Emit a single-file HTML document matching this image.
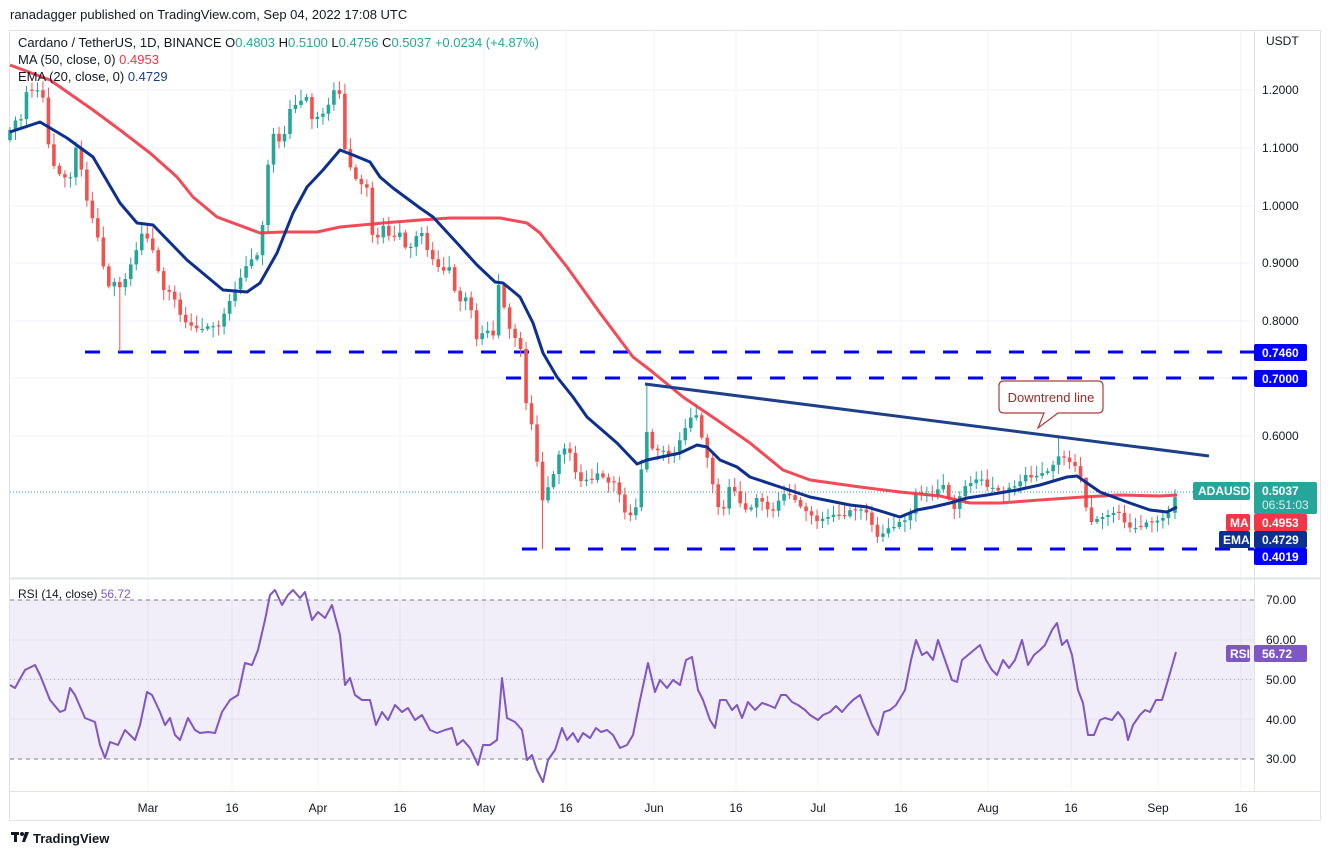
<!DOCTYPE html>
<html><head><meta charset="utf-8"><style>
body{margin:0;background:#fff;font-family:"Liberation Sans",sans-serif;}
svg text{font-family:"Liberation Sans",sans-serif;}
</style></head><body>
<svg id="c" width="1332" height="857" xmlns="http://www.w3.org/2000/svg">
<rect width="1332" height="857" fill="#fff"/>
<text x="10" y="19" font-size="13" fill="#131722">ranadagger published on TradingView.com, Sep 04, 2022 17:08 UTC</text>
<rect x="9.5" y="30.5" width="1311" height="790" fill="none" stroke="#e0e3eb"/>
<g id="grid" stroke="#f0f3fa" stroke-width="1"></g>
<rect x="10" y="600" width="1244" height="159" fill="#7e57c2" fill-opacity="0.1"/>
<line x1="10" y1="600" x2="1254" y2="600" stroke="#787b86" stroke-dasharray="4,4"/>
<line x1="10" y1="759" x2="1254" y2="759" stroke="#787b86" stroke-dasharray="4,4"/>
<line x1="10" y1="679.5" x2="1254" y2="679.5" stroke="#787b86" stroke-opacity="0.5" stroke-dasharray="1,3"/>
<line x1="1254.5" y1="31" x2="1254.5" y2="791" stroke="#e0e3eb"/>
<line x1="10" y1="578.5" x2="1320" y2="578.5" stroke="#e0e3eb" stroke-width="2"/>
<line x1="10" y1="791.5" x2="1320" y2="791.5" stroke="#e0e3eb"/>
<line x1="10" y1="492" x2="1254" y2="492" stroke="#26a69a" stroke-dasharray="1,2"/>
<g stroke="#0000ff" stroke-width="3" stroke-dasharray="15,18">
<line x1="85" y1="352" x2="1254" y2="352"/>
<line x1="506" y1="378" x2="1254" y2="378"/>
<line x1="522" y1="549" x2="1254" y2="549"/>
</g>
<g id="candles"></g>
<polyline fill="none" stroke="#f23645" stroke-opacity="0.9" stroke-width="3" stroke-linejoin="round" points="10,65 50,80 93,110 120,130 150,153 177,177 193,197 217,217 260,233 283,232 317,232 340,227 383,223 420,220 450,218 500,218 527,223 540,233 567,267 600,313 633,357 650,370 683,397 717,420 750,443 783,470 810,480 860,487 900,492 940,496 970,503 1000,503 1040,500 1083,497 1120,495 1160,496 1177,495"/>
<polyline fill="none" stroke="#0d2f8f" stroke-width="3" stroke-linejoin="round" points="10,132 40,122 67,138 93,157 120,203 137,223 153,225 187,260 223,290 247,292 260,283 277,253 293,213 307,187 323,170 340,150 353,155 370,162 380,177 393,188 420,208 433,217 457,243 477,265 495,282 503,283 520,297 533,323 543,353 557,377 573,397 587,417 617,443 637,464 647,460 680,453 697,445 707,447 720,460 737,467 750,477 780,487 810,497 850,505 867,507 900,517 917,510 933,507 950,503 967,498 987,495 1017,490 1040,485 1067,477 1077,476 1087,483 1100,492 1127,502 1150,510 1167,512 1177,507"/>
<line x1="645" y1="384" x2="1209" y2="456" stroke="#1e3f8a" stroke-width="3"/>
<path d="M1004,381 H1098 Q1103,381 1103,386 V408 Q1103,413 1098,413 H1058 L1038,428 L1044,413 H1004 Q999,413 999,408 V386 Q999,381 1004,381 Z" fill="#fff" stroke="#b23a3a" stroke-width="1.2"/>
<text x="1051" y="402" font-size="13" fill="#9c2a2a" text-anchor="middle">Downtrend line</text>
<polyline fill="none" stroke="#7e57c2" stroke-width="2" stroke-linejoin="round" points="10,685 15,688 25,670 35,665 40,675 50,700 60,712 65,710 70,688 75,695 85,718 95,722 100,745 105,758 110,742 118,745 125,730 130,735 135,740 140,725 147,692 152,695 160,712 165,725 170,718 175,735 180,740 188,718 195,730 200,733 208,732 215,733 222,712 230,700 238,695 245,663 252,665 258,650 265,620 270,595 275,590 282,605 288,595 293,590 300,598 305,592 312,620 318,612 325,618 332,605 340,635 345,685 350,678 355,695 362,700 370,700 376,725 382,712 388,720 395,705 402,712 408,708 415,720 422,715 430,730 437,733 445,730 452,728 457,745 463,740 470,748 478,765 483,745 490,745 497,740 502,678 507,718 515,722 522,730 527,760 532,755 537,770 543,782 548,760 555,750 562,728 567,740 573,733 578,742 583,733 590,738 596,728 601,732 607,730 613,735 620,748 627,745 633,735 640,700 648,663 655,692 660,680 667,688 673,680 680,685 686,660 692,657 698,690 703,700 710,720 715,728 720,700 726,700 732,710 737,705 742,718 748,702 755,710 762,703 768,705 775,708 781,695 786,695 792,702 798,705 805,710 810,715 818,720 823,715 830,712 836,706 842,712 848,705 853,700 860,695 866,710 872,725 878,735 884,712 890,710 896,705 905,690 911,660 916,640 922,655 927,652 933,660 938,640 945,660 952,680 957,682 962,660 968,655 974,650 980,645 986,660 992,670 997,675 1003,660 1009,668 1015,660 1022,640 1028,665 1034,655 1040,650 1045,645 1052,630 1057,623 1062,645 1067,640 1072,655 1078,690 1083,703 1088,735 1094,735 1100,720 1105,718 1112,720 1118,712 1124,720 1128,740 1133,725 1140,715 1145,710 1150,712 1156,700 1162,700 1168,680 1176,652"/>
<g font-size="12" fill="#131722">
<text x="18" y="47" font-size="13">Cardano / TetherUS, 1D, BINANCE <tspan>O</tspan><tspan fill="#26a69a">0.4803</tspan> <tspan>H</tspan><tspan fill="#26a69a">0.5100</tspan> <tspan>L</tspan><tspan fill="#26a69a">0.4756</tspan> <tspan>C</tspan><tspan fill="#26a69a">0.5037</tspan> <tspan fill="#26a69a">+0.0234 (+4.87%)</tspan></text>
<text x="18" y="64" font-size="13">MA (50, close, 0) <tspan fill="#f23645">0.4953</tspan></text>
<text x="18" y="81" font-size="13">EMA (20, close, 0) <tspan fill="#1e3f8a">0.4729</tspan></text>
<text x="18" y="598">RSI (14, close) <tspan fill="#7e57c2">56.72</tspan></text>
<text x="1266" y="45">USDT</text>
<text x="1262" y="94">1.2000</text>
<text x="1262" y="152">1.1000</text>
<text x="1262" y="210">1.0000</text>
<text x="1262" y="267">0.9000</text>
<text x="1262" y="325">0.8000</text>
<text x="1262" y="440">0.6000</text>
<text x="1266" y="604">70.00</text>
<text x="1266" y="644">60.00</text>
<text x="1266" y="684">50.00</text>
<text x="1266" y="724">40.00</text>
<text x="1266" y="763">30.00</text>
<g text-anchor="middle">
<text x="148" y="812">Mar</text><text x="232" y="812">16</text><text x="318" y="812">Apr</text><text x="400" y="812">16</text><text x="484" y="812">May</text><text x="566" y="812">16</text><text x="654" y="812">Jun</text><text x="736" y="812">16</text><text x="818" y="812">Jul</text><text x="901" y="812">16</text><text x="988" y="812">Aug</text><text x="1071" y="812">16</text><text x="1158" y="812">Sep</text><text x="1241" y="812">16</text>
</g>
</g>
<g font-size="12" font-weight="bold" fill="#fff">
<rect x="1254" y="344" width="53" height="17" fill="#0000ff" rx="2"/><text x="1262" y="357">0.7460</text>
<rect x="1254" y="370" width="53" height="17" fill="#0000ff" rx="2"/><text x="1262" y="383">0.7000</text>
<rect x="1193" y="482" width="57" height="18" fill="#26a69a" rx="2"/><text x="1198" y="495">ADAUSDT</text>
<rect x="1254" y="482" width="63" height="32" fill="#26a69a" rx="2"/><text x="1262" y="495">0.5037</text><text x="1262" y="509" font-weight="normal" fill="#d5f0ec">06:51:03</text>
<rect x="1226" y="514" width="24" height="17" fill="#f23645" rx="2"/><text x="1230" y="527">MA</text>
<rect x="1254" y="514" width="53" height="17" fill="#f23645" rx="2"/><text x="1262" y="527">0.4953</text>
<rect x="1219" y="531" width="31" height="17" fill="#0d2f8f" rx="2"/><text x="1223" y="544">EMA</text>
<rect x="1254" y="531" width="53" height="17" fill="#0d2f8f" rx="2"/><text x="1262" y="544">0.4729</text>
<rect x="1254" y="548" width="53" height="17" fill="#0000ff" rx="2"/><text x="1262" y="561">0.4019</text>
<rect x="1226" y="645" width="24" height="17" fill="#7e57c2" rx="2"/><text x="1230" y="658">RSI</text>
<rect x="1254" y="645" width="53" height="17" fill="#7e57c2" rx="2"/><text x="1262" y="658">56.72</text>
</g>
<g fill="#131722"><rect x="11" y="832" width="8" height="3"/><rect x="14" y="832" width="3" height="10"/><circle cx="22" cy="834" r="2"/><path d="M25,832 h4 l-4,10 h-3z"/></g>
<text x="33" y="843" font-size="13" font-weight="bold" fill="#131722">TradingView</text>
</svg>
<script>
(function(){
var NS="http://www.w3.org/2000/svg";
function el(p,t,a){var e=document.createElementNS(NS,t);for(var k in a)e.setAttribute(k,a[k]);p.appendChild(e);return e;}
var g=document.getElementById("grid");
[148,232,318,400,484,566,654,736,818,901,988,1071,1158,1241].forEach(function(x){el(g,"line",{x1:x,y1:31,x2:x,y2:791});});
[90,148,206,263,321,378,436,494,600,640,679,719,759].forEach(function(y){el(g,"line",{x1:10,y1:y,x2:1254,y2:y});});
var K=[[10,130],[15,120],[20,125],[25,95],[30,85],[35,100],[40,80],[45,110],[50,160],[60,175],[70,180],[75,145],[80,160],[85,195],[90,210],[100,245],[107,290],[112,280],[118,285],[122,290],[128,270],[133,260],[143,230],[148,240],[155,255],[162,290],[168,290],[175,300],[182,320],[190,325],[200,330],[210,325],[218,328],[230,300],[248,262],[260,253],[263,220],[270,143],[275,130],[282,150],[287,118],[293,100],[297,108],[303,97],[308,97],[313,125],[320,112],[325,115],[330,100],[336,85],[341,98],[347,177],[353,160],[358,193],[363,180],[368,190],[374,252],[379,233],[385,223],[391,243],[397,232],[402,233],[407,255],[413,242],[418,233],[423,233],[429,257],[434,260],[440,270],[446,271],[451,265],[457,307],[462,298],[468,297],[473,318],[478,347],[484,327],[489,332],[495,337],[500,265],[506,327],[512,330],[517,343],[523,353],[528,435],[533,420],[539,482],[544,508],[550,477],[556,472],[562,437],[567,460],[572,448],[578,490],[583,475],[589,483],[594,478],[600,470],[606,485],[611,480],[617,485],[622,505],[627,518],[633,513],[638,503],[643,453],[649,420],[654,463],[660,443],[666,457],[671,455],[677,453],[682,430],[687,427],[693,412],[698,417],[704,450],[709,462],[715,498],[721,515],[726,503],[732,473],[737,507],[743,500],[748,518],[754,498],[759,498],[765,505],[771,515],[776,505],[782,495],[787,493],[793,498],[798,503],[803,510],[808,512],[813,517],[819,523],[824,517],[830,517],[836,513],[841,518],[847,515],[852,507],[858,513],[863,507],[868,515],[874,530],[879,540],[885,530],[891,527],[896,527],[902,518],[907,522],[913,507],[918,485],[923,498],[929,493],[934,497],[940,485],[945,485],[951,507],[956,510],[962,488],[967,485],[973,482],[978,478],[983,480],[989,490],[994,487],[1000,492],[1006,492],[1011,485],[1017,487],[1022,478],[1028,473],[1033,480],[1039,473],[1044,473],[1050,470],[1056,460],[1061,453],[1067,462],[1072,462],[1078,470],[1083,485],[1088,522],[1094,522],[1099,517],[1105,517],[1111,513],[1116,513],[1122,513],[1127,532],[1133,523],[1138,533],[1143,523],[1149,522],[1155,523],[1160,518],[1166,518],[1172,505],[1177,492]];
function f(x){if(x<=K[0][0])return K[0][1];for(var i=1;i<K.length;i++){if(x<=K[i][0]){var a=K[i-1],b=K[i];return a[1]+(b[1]-a[1])*(x-a[0])/(b[0]-a[0]);}}return K[K.length-1][1];}
var cg=document.getElementById("candles");var prev=140;
for(var i=0;i<213;i++){var x=10+i*5.49;if(i==212)x=1175;var c=f(x);var o=prev;if(Math.abs(c-o)<1.2)o=c+((i%2)?1.2:-1.2);
var tp=Math.min(o,c),bt=Math.max(o,c);var hi=tp-(3+(i*37)%9),lo=bt+(2+(i*53)%9);
if(Math.abs(x-122)<3)lo=352;if(Math.abs(x-544)<3)lo=549;if(Math.abs(x-649)<3)hi=385;if(Math.abs(x-1061)<3)hi=437;if(Math.abs(x-1088)<3)hi=485;
var col=c<o?"#26a69a":"#ef5350";
el(cg,"line",{x1:x,y1:hi,x2:x,y2:lo,stroke:col,"stroke-width":1});
el(cg,"rect",{x:x-1.8,y:tp,width:3.6,height:Math.max(1,bt-tp),fill:col});
prev=c;}
})();
</script>
</body></html>
